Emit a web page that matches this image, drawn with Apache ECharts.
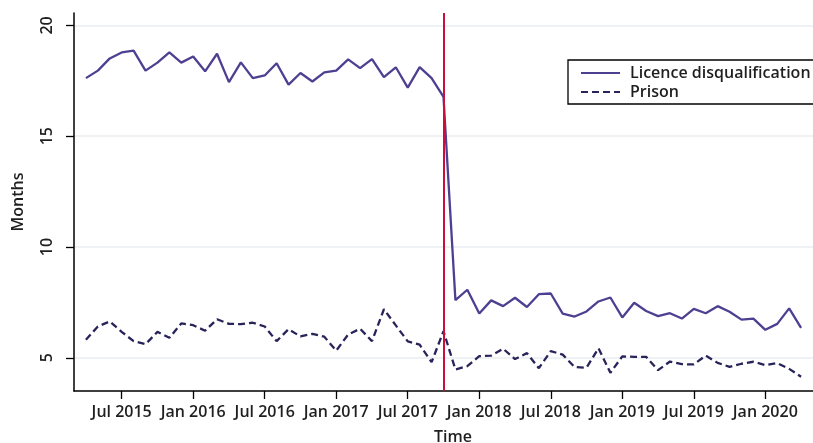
<!DOCTYPE html>
<html>
<head>
<meta charset="utf-8">
<script src="https://cdn.jsdelivr.net/npm/echarts@6/dist/echarts.min.js"></script>
<style>
html,body{margin:0;padding:0;background:#fff;}
#chart{width:813px;height:443px;}
</style>
</head>
<body>
<div id="chart"></div>
<script>
const categories = [
  'Mar 2015','Apr 2015','May 2015','Jun 2015','Jul 2015','Aug 2015','Sep 2015','Oct 2015','Nov 2015','Dec 2015',
  'Jan 2016','Feb 2016','Mar 2016','Apr 2016','May 2016','Jun 2016','Jul 2016','Aug 2016','Sep 2016','Oct 2016','Nov 2016','Dec 2016',
  'Jan 2017','Feb 2017','Mar 2017','Apr 2017','May 2017','Jun 2017','Jul 2017','Aug 2017','Sep 2017','Oct 2017','Nov 2017','Dec 2017',
  'Jan 2018','Feb 2018','Mar 2018','Apr 2018','May 2018','Jun 2018','Jul 2018','Aug 2018','Sep 2018','Oct 2018','Nov 2018','Dec 2018',
  'Jan 2019','Feb 2019','Mar 2019','Apr 2019','May 2019','Jun 2019','Jul 2019','Aug 2019','Sep 2019','Oct 2019','Nov 2019','Dec 2019',
  'Jan 2020','Feb 2020','Mar 2020','Apr 2020','May 2020'
];
// Apr 2015 .. Apr 2020 (null for axis padding months Mar 2015 and May 2020)
const licence = [null,
  17.62,17.96,18.51,18.78,18.86,17.96,18.32,18.78,18.32,
  18.60,17.93,18.72,17.44,18.33,17.62,17.74,18.29,17.33,17.85,17.47,17.88,
  17.96,18.47,18.07,18.48,17.67,18.11,17.19,18.12,17.62,16.77,7.60,8.07,
  7.00,7.59,7.33,7.71,7.29,7.87,7.90,6.99,6.86,7.09,7.54,7.72,
  6.82,7.48,7.11,6.88,7.01,6.77,7.21,7.01,7.33,7.08,6.72,6.77,
  6.26,6.53,7.23,6.35,null];
const prison = [null,
  5.81,6.41,6.64,6.17,5.75,5.61,6.17,5.90,6.55,
  6.47,6.22,6.74,6.53,6.52,6.58,6.41,5.75,6.29,5.96,6.08,5.95,
  5.32,6.05,6.31,5.75,7.19,6.46,5.74,5.59,4.80,6.20,4.47,4.62,
  5.07,5.10,5.41,4.94,5.21,4.53,5.30,5.14,4.58,4.55,5.43,4.32,
  5.06,5.04,5.04,4.44,4.83,4.71,4.70,5.10,4.77,4.59,4.73,4.82,
  4.67,4.76,4.50,4.14,null];
const yTicks = [5, 10, 15, 20];
const breakMonth = 'Oct 2017';
const seriesNames = ['Licence disqualification', 'Prison'];

const FONT = '"Open Sans", "Noto Sans", sans-serif';
const TXT = '#1f1f1f';
const FS = 16;
const isHalfYear = (v) => /^(Jan|Jul) /.test(v);

const chart = echarts.init(document.getElementById('chart'), null, {renderer: 'canvas'});
chart.setOption({
  animation: false,
  backgroundColor: '#ffffff',
  grid: {left: 74, right: 0, top: 13, bottom: 52, containLabel: false, outerBoundsMode: 'none'},
  legend: {
    orient: 'vertical',
    left: 568,
    top: 60,
    padding: [5, 12, 4, 12],
    itemGap: 3,
    itemWidth: 39,
    itemHeight: 16,
    borderColor: '#000',
    borderWidth: 1.3,
    borderRadius: 0,
    backgroundColor: '#fff',
    itemStyle: {opacity: 0, borderWidth: 0},
    textStyle: {fontFamily: FONT, fontSize: FS, fontWeight: 600, color: TXT, padding: [0, 0, 0, 5]},
    data: seriesNames
  },
  xAxis: {
    type: 'category',
    data: categories,
    boundaryGap: false,
    name: 'Time',
    nameLocation: 'middle',
    nameGap: 38,
    nameTextStyle: {fontFamily: FONT, fontSize: FS, fontWeight: 600, color: TXT, padding: [0, 0, 0, 19]},
    axisLine: {lineStyle: {color: '#000', width: 1.5}},
    axisTick: {show: true, length: 8, lineStyle: {color: '#000', width: 1.3}, interval: (i, v) => isHalfYear(v)},
    axisLabel: {interval: (i, v) => isHalfYear(v), fontFamily: FONT, fontSize: FS, fontWeight: 600, color: TXT, margin: 13},
    splitLine: {show: false}
  },
  yAxis: {
    type: 'value',
    min: 3.5,
    max: 20.56,
    name: 'Months',
    nameLocation: 'middle',
    nameGap: 48,
    nameTextStyle: {fontFamily: FONT, fontSize: FS, fontWeight: 600, color: TXT},
    axisLine: {show: true, lineStyle: {color: '#000', width: 1.5}},
    axisTick: {show: true, length: 8, lineStyle: {color: '#000', width: 1.3}, customValues: yTicks},
    axisLabel: {customValues: yTicks, rotate: 90, fontFamily: FONT, fontSize: FS, fontWeight: 600, color: TXT, margin: 19},
    splitLine: {show: true, lineStyle: {color: '#e8eef2', width: 1.5}}
  },
  series: [
    {
      name: seriesNames[0],
      type: 'line',
      data: licence,
      symbol: 'none',
      lineStyle: {color: '#4f3f91', width: 2.3, type: 'solid'},
      itemStyle: {color: '#4f3f91'},
      markLine: {
        silent: true,
        symbol: 'none',
        label: {show: false},
        lineStyle: {color: '#c8103a', width: 2, type: 'solid'},
        data: [{xAxis: breakMonth}]
      },
      z: 3
    },
    {
      name: seriesNames[1],
      type: 'line',
      data: prison,
      symbol: 'none',
      lineStyle: {color: '#28245a', width: 2.3, type: [7, 4]},
      itemStyle: {color: '#28245a'},
      z: 2
    }
  ]
});
</script>
</body>
</html>
